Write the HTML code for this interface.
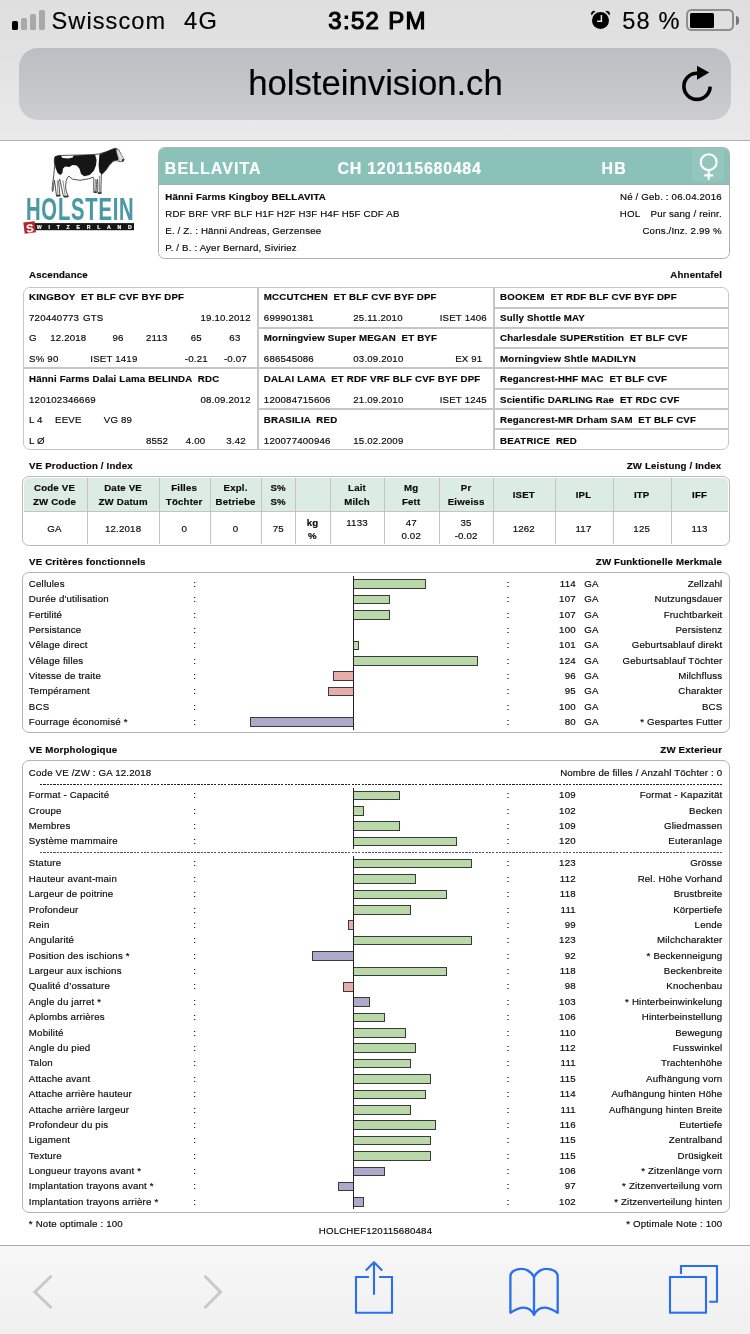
<!DOCTYPE html>
<html lang="fr"><head><meta charset="utf-8"><meta name="viewport" content="width=750"><title>holsteinvision.ch</title>
<style>
html,body{margin:0;padding:0;background:#fff;}
body{width:750px;height:1334px;position:relative;overflow:hidden;font-family:"Liberation Sans",sans-serif;}
.a{position:absolute;display:block;}
.t{position:absolute;display:block;white-space:pre;font-kerning:normal;-webkit-text-stroke:0.17px currentColor;}
</style></head>
<body>
<div class="a" style="left:0;top:0;width:750px;height:140px;background:linear-gradient(#dfdfdf,#e1e1e1 35%,#eaeaea);"></div>
<div class="a" style="left:0;top:139.6px;width:750px;height:1px;background:#b0b0b0;"></div>
<div class="a" style="left:12.20px;top:20.80px;width:5.80px;height:8.80px;background:#000;border-radius:1.6px;"></div>
<div class="a" style="left:21.20px;top:17.70px;width:5.80px;height:11.90px;background:#a9a9a9;border-radius:1.6px;"></div>
<div class="a" style="left:30.20px;top:14.00px;width:5.80px;height:15.60px;background:#a9a9a9;border-radius:1.6px;"></div>
<div class="a" style="left:39.30px;top:10.10px;width:5.80px;height:19.50px;background:#a9a9a9;border-radius:1.6px;"></div>
<span class="t" style="top:5.52px;font-size:23.6px;line-height:31px;color:#000;letter-spacing:1.05px;left:51.53px;">Swisscom</span>
<span class="t" style="top:5.52px;font-size:23.6px;line-height:31px;color:#000;letter-spacing:1.4px;left:184.03px;">4G</span>
<span class="t" style="top:5.38px;font-size:24.0px;line-height:31px;color:#000;letter-spacing:1.3px;left:227.60px;width:300px;text-align:center;-webkit-text-stroke:1.15px #000;">3:52 PM</span>
<span class="t" style="top:5.52px;font-size:23.6px;line-height:31px;color:#000;letter-spacing:1.2px;left:622.23px;">58 %</span>
<svg class="a" style="left:586px;top:6px" width="30" height="28" viewBox="586 6 30 28">
<circle cx="600.5" cy="20.4" r="8.5" fill="#000"/>
<path d="M591.7 15.2 A2.6 2.6 0 0 1 595.4 11.6 A10 10 0 0 0 591.7 15.2 Z M609.3 15.2 A2.6 2.6 0 0 0 605.6 11.6 A10 10 0 0 1 609.3 15.2 Z" fill="#000" stroke="#000" stroke-width="0.3" stroke-linejoin="round"/>
<path d="M601.4 15.1 V21.2 H597.1" stroke="#e4e4e4" stroke-width="1.5" fill="none"/>
</svg>
<div class="a" style="left:686.00px;top:9.40px;width:48.00px;height:22.00px;border:2px solid #8e8e90;border-radius:5.5px;box-sizing:border-box;"></div>
<div class="a" style="left:689.80px;top:13.20px;width:24.30px;height:14.60px;background:#000;border-radius:1.5px;"></div>
<div class="a" style="left:736.00px;top:16.30px;width:3.40px;height:8.50px;background:#777;border-radius:0 100% 100% 0 / 0 50% 50% 0;"></div>
<div class="a" style="left:19.00px;top:47.50px;width:712.00px;height:72.00px;background:linear-gradient(#bdbec3,#c4c5c9 50%,#cdcdd0);border-radius:19px;"></div>
<span class="t" style="top:60.88px;font-size:34.7px;line-height:45px;color:#000;left:225.50px;width:300px;text-align:center;">holsteinvision.ch</span>
<svg class="a" style="left:676px;top:60px" width="42" height="46" viewBox="676 60 42 46">
<path d="M697 73.2 A13.1 13.1 0 1 0 710.1 86.6" fill="none" stroke="#000" stroke-width="3.6"/>
<path d="M697 65.8 L709.2 72.5 L697 79.8 Z" fill="#000"/>
</svg>
<div class="a" style="left:0;top:1245px;width:750px;height:89px;background:linear-gradient(#f7f7f7,#f0f0f0);"></div>
<div class="a" style="left:0;top:1245.1px;width:750px;height:1px;background:#a8a8a8;"></div>
<svg class="a" style="left:0;top:1246px" width="750" height="88" viewBox="0 1246 750 88" fill="none">
<path d="M51.5 1275.8 L35 1292 L51.5 1308" stroke="#c9c9c9" stroke-width="3"/>
<path d="M204.5 1275.8 L220.5 1292 L204.5 1308" stroke="#c9c9c9" stroke-width="3"/>
<g stroke="#2a6ff0" stroke-width="2.1">
<path d="M369 1277 H356 V1312.7 H392 V1277 H379"/>
<path d="M374 1294.8 V1262.2 M365.8 1270.6 L374 1262.3 L382.2 1270.6"/>
<path d="M534 1315 V1277 C531 1270.5 524 1268.6 521.5 1268.8 C516 1269 510.4 1271.5 510.4 1276 V1312.8 C514 1310.5 519 1307.6 523.5 1307.6 C528.5 1307.6 532 1310.5 534 1315 C536 1310.5 539.5 1307.6 544.5 1307.6 C549 1307.6 554 1310.5 557.7 1312.8 V1276 C557.7 1271.5 552 1269 546.5 1268.8 C544 1268.6 537 1270.5 534 1277" stroke-linejoin="round" stroke-width="2.3"/>
<rect x="670" y="1277" width="36" height="35.7"/>
<path d="M681 1274 V1266 H717 V1301.7 H709.2"/>
</g>
</svg>
<svg class="a" style="left:20px;top:144px" width="120" height="95" viewBox="20 144 120 95">
<!-- cow -->
<g stroke-linejoin="round">
<path d="M54.9 156.8 L58.7 155.5 L73.1 155.2 L90.7 154.7 L98.1 154.1 L105.6 152.0 L112.0 149.3 L114.7 148.3 L117.3 148.7 L118.9 150.4 L121.6 155.7 L123.9 159.5 L123.3 161.3 L120.5 161.7 L116.3 160.6 L113.1 161.2 L109.3 165.3 L105.6 170.7 L101.3 174.9 L101.1 184.5 L100.8 190.9 L101.3 193.3 L98.1 193.6 L97.6 190.9 L97.9 184.5 L97.3 179.2 L96.5 184.5 L96.0 190.9 L96.5 192.5 L93.9 192.5 L93.7 186.7 L93.9 179.2 L93.3 177.3 L88.5 178.8 L80.0 180.3 L72.5 179.2 L68.8 176.0 L67.2 178.1 L66.1 181.3 L65.6 186.7 L66.1 190.9 L68.3 196.8 L64.0 197.1 L62.9 194.1 L61.3 186.7 L60.3 181.3 L59.7 179.2 L58.7 181.3 L59.2 186.7 L59.7 194.1 L60.3 195.7 L56.5 196.1 L56.0 192.0 L55.0 184.5 L54.4 180.3 L53.5 186.7 L52.5 191.5 L52.1 188.8 L52.9 181.3 L53.8 174.9 L54.6 165.3 L54.2 160.0 Z" fill="#fbfbfb" stroke="#262626" stroke-width="0.8"/>
<path d="M54.9 156.8 L58.7 155.5 L60.8 155.5 L62.4 157.9 L68.3 158.5 L72.7 157.4 L73.6 155.4 L90.7 154.8 L95.1 154.7 L96.6 160.0 L96.0 165.3 L93.9 170.7 L89.6 174.9 L84.3 176.2 L81.1 174.1 L79.5 168.7 L76.8 165.5 L72.5 164.9 L69.3 167.0 L65.1 166.6 L62.9 168.7 L62.4 173.0 L60.3 175.1 L57.6 173.0 L55.5 167.7 L54.4 161.1 Z" fill="#151515"/>
<path d="M99.4 154.6 L105.6 152.1 L112.0 149.4 L114.7 148.5 L117.1 149.1 L118.0 151.7 L119.7 156.8 L117.9 160.0 L113.3 161.0 L109.3 165.1 L105.6 170.5 L101.5 174.5 L99.4 171.9 L98.6 165.3 L99.0 160.0 Z" fill="#151515"/>
<path d="M116.1 148.7 L118.9 150.2 L121.8 155.5 L124.2 159.5 L123.3 161.4 L119.7 161.6 L118.0 157.2 L116.5 152.1 Z" fill="#dcdcdc" stroke="#555" stroke-width="0.5"/>
<path d="M122.1 158.9 L124.1 159.6 L123.3 161.3 L121.8 160.9 Z" fill="#222"/>
<path d="M53.1 182.4 L52.7 190.9 M54.0 182.4 L53.3 191.1 M57.4 180.3 L57.8 195.2 M62.9 180.3 L65.1 195.2 M95.5 179.2 L94.9 192.0 M99.4 176.0 L99.6 192.5" stroke="#777" stroke-width="0.8" fill="none"/>
<rect x="64.0" y="195.6" width="4.3" height="1.5" fill="#333"/><rect x="56.5" y="194.8" width="3.7" height="1.5" fill="#333"/><rect x="98.1" y="192.2" width="3.2" height="1.5" fill="#333"/><rect x="93.9" y="191.3" width="2.8" height="1.5" fill="#333"/>
</g>
<!-- red square and bar -->
<rect x="34" y="223.1" width="100" height="7.1" fill="#161616"/>
<path d="M23.3 222.6 L34.6 221.2 L36 232.3 L24.7 233.7 Z" fill="#b4242c"/>
</svg>
<span class="t" style="top:220.59px;font-size:11px;line-height:14px;color:#fff;font-weight:700;left:-120.20px;width:300px;text-align:center;transform:rotate(-7deg);">S</span>
<span class="t" style="top:224.30px;font-size:5.2px;line-height:7px;color:#fff;font-weight:700;letter-spacing:6.75px;left:36.81px;">WITZERLAND</span>
<span class="t" style="left:26.3px;top:191.2px;font-size:31.5px;line-height:36px;color:#4a98a6;font-weight:700;letter-spacing:1.2px;transform-origin:0 0;transform:scaleX(0.642);">HOLSTEIN</span>
<div class="a" style="left:158.3px;top:146.9px;width:571.4px;height:112.2px;border:1.7px solid #b0b0b0;border-radius:6.5px;box-sizing:border-box;background:#fff;overflow:hidden;"><div style="height:36.6px;background:#8ac2b9;border-bottom:1.3px solid #a8aeac;position:relative;"><div style="position:absolute;left:532.7px;top:0.4px;width:32.4px;height:33.6px;background:#94c6be;"></div></div></div>
<span class="t" style="top:157.86px;font-size:16px;line-height:21px;color:#fff;font-weight:700;letter-spacing:1.05px;left:164.80px;">BELLAVITA</span>
<span class="t" style="top:157.86px;font-size:16px;line-height:21px;color:#fff;font-weight:700;letter-spacing:0.7px;left:337.60px;">CH 120115680484</span>
<span class="t" style="top:157.86px;font-size:16px;line-height:21px;color:#fff;font-weight:700;letter-spacing:1.3px;left:601.50px;">HB</span>
<svg class="a" style="left:695px;top:150px" width="28" height="32" viewBox="695 150 28 32" fill="none" stroke="#fff" stroke-width="2.1">
<circle cx="708.7" cy="162.2" r="7.9"/><path d="M708.7 170.1 V179.8 M704.3 175.4 H713.1"/></svg>
<span class="t" style="top:190.04px;font-size:9.7px;line-height:13px;color:#0a0a0a;font-weight:700;letter-spacing:0.17px;left:165.27px;">Hänni Farms Kingboy BELLAVITA</span>
<span class="t" style="top:207.14px;font-size:9.7px;line-height:13px;color:#0a0a0a;letter-spacing:0.17px;left:165.27px;">RDF BRF VRF BLF H1F H2F H3F H4F H5F CDF AB</span>
<span class="t" style="top:224.04px;font-size:9.7px;line-height:13px;color:#0a0a0a;letter-spacing:0.17px;left:165.27px;">E. / Z. : Hänni Andreas, Gerzensee</span>
<span class="t" style="top:241.14px;font-size:9.7px;line-height:13px;color:#0a0a0a;letter-spacing:0.17px;left:165.27px;">P. / B. : Ayer Bernard, Siviriez</span>
<span class="t" style="top:189.84px;font-size:9.7px;line-height:13px;color:#0a0a0a;letter-spacing:0.17px;right:28.22px;">Né / Geb. : 06.04.2016</span>
<span class="t" style="top:206.94px;font-size:9.7px;line-height:13px;color:#0a0a0a;letter-spacing:0.17px;left:619.77px;">HOL</span>
<span class="t" style="top:206.94px;font-size:9.7px;line-height:13px;color:#0a0a0a;letter-spacing:0.17px;right:28.22px;">Pur sang / reinr.</span>
<span class="t" style="top:223.74px;font-size:9.7px;line-height:13px;color:#0a0a0a;letter-spacing:0.17px;right:28.22px;">Cons./Inz. 2.99 %</span>
<span class="t" style="top:268.44px;font-size:9.7px;line-height:13px;color:#0a0a0a;font-weight:700;letter-spacing:0.17px;left:29.07px;">Ascendance</span>
<span class="t" style="top:268.44px;font-size:9.7px;line-height:13px;color:#0a0a0a;font-weight:700;letter-spacing:0.17px;right:27.91px;">Ahnentafel</span>
<div class="a" style="left:22.60px;top:286.60px;width:706.60px;height:163.40px;border:1.7px solid #c6c6c6;border-radius:7px;box-sizing:border-box;"></div>
<div class="a" style="left:257.00px;top:287.00px;width:1.50px;height:162.50px;background:#c6c6c6;"></div>
<div class="a" style="left:493.00px;top:287.00px;width:1.50px;height:162.50px;background:#c6c6c6;"></div>
<div class="a" style="left:23.00px;top:367.00px;width:705.80px;height:1.50px;background:#c6c6c6;"></div>
<div class="a" style="left:258.20px;top:327.00px;width:235.60px;height:1.50px;background:#c6c6c6;"></div>
<div class="a" style="left:258.20px;top:408.00px;width:235.60px;height:1.50px;background:#c6c6c6;"></div>
<div class="a" style="left:493.80px;top:307.00px;width:235.00px;height:1.50px;background:#c6c6c6;"></div>
<div class="a" style="left:493.80px;top:327.00px;width:235.00px;height:1.50px;background:#c6c6c6;"></div>
<div class="a" style="left:493.80px;top:347.00px;width:235.00px;height:1.50px;background:#c6c6c6;"></div>
<div class="a" style="left:493.80px;top:388.00px;width:235.00px;height:1.50px;background:#c6c6c6;"></div>
<div class="a" style="left:493.80px;top:408.00px;width:235.00px;height:1.50px;background:#c6c6c6;"></div>
<div class="a" style="left:493.80px;top:428.00px;width:235.00px;height:1.50px;background:#c6c6c6;"></div>
<span class="t" style="top:289.84px;font-size:9.7px;line-height:13px;color:#0a0a0a;font-weight:700;letter-spacing:0.17px;left:29.07px;">KINGBOY  ET BLF CVF BYF DPF</span>
<span class="t" style="top:310.54px;font-size:9.7px;line-height:13px;color:#0a0a0a;letter-spacing:0.17px;left:29.07px;">720440773</span>
<span class="t" style="top:310.54px;font-size:9.7px;line-height:13px;color:#0a0a0a;letter-spacing:0.17px;left:83.07px;">GTS</span>
<span class="t" style="top:310.54px;font-size:9.7px;line-height:13px;color:#0a0a0a;letter-spacing:0.17px;right:499.31px;">19.10.2012</span>
<span class="t" style="top:330.94px;font-size:9.7px;line-height:13px;color:#0a0a0a;letter-spacing:0.17px;left:29.07px;">G</span>
<span class="t" style="top:330.94px;font-size:9.7px;line-height:13px;color:#0a0a0a;letter-spacing:0.17px;left:50.17px;">12.2018</span>
<span class="t" style="top:330.94px;font-size:9.7px;line-height:13px;color:#0a0a0a;letter-spacing:0.17px;left:-32.00px;width:300px;text-align:center;">96</span>
<span class="t" style="top:330.94px;font-size:9.7px;line-height:13px;color:#0a0a0a;letter-spacing:0.17px;left:6.80px;width:300px;text-align:center;">2113</span>
<span class="t" style="top:330.94px;font-size:9.7px;line-height:13px;color:#0a0a0a;letter-spacing:0.17px;left:46.30px;width:300px;text-align:center;">65</span>
<span class="t" style="top:330.94px;font-size:9.7px;line-height:13px;color:#0a0a0a;letter-spacing:0.17px;left:84.90px;width:300px;text-align:center;">63</span>
<span class="t" style="top:351.64px;font-size:9.7px;line-height:13px;color:#0a0a0a;letter-spacing:0.17px;left:29.07px;">S% 90</span>
<span class="t" style="top:351.64px;font-size:9.7px;line-height:13px;color:#0a0a0a;letter-spacing:0.17px;left:90.37px;">ISET 1419</span>
<span class="t" style="top:351.64px;font-size:9.7px;line-height:13px;color:#0a0a0a;letter-spacing:0.17px;left:46.30px;width:300px;text-align:center;">-0.21</span>
<span class="t" style="top:351.64px;font-size:9.7px;line-height:13px;color:#0a0a0a;letter-spacing:0.17px;left:85.40px;width:300px;text-align:center;">-0.07</span>
<span class="t" style="top:371.64px;font-size:9.7px;line-height:13px;color:#0a0a0a;font-weight:700;letter-spacing:0.17px;left:29.07px;">Hänni Farms Dalai Lama BELINDA  RDC</span>
<span class="t" style="top:392.64px;font-size:9.7px;line-height:13px;color:#0a0a0a;letter-spacing:0.17px;left:29.07px;">120102346669</span>
<span class="t" style="top:392.64px;font-size:9.7px;line-height:13px;color:#0a0a0a;letter-spacing:0.17px;right:499.31px;">08.09.2012</span>
<span class="t" style="top:413.14px;font-size:9.7px;line-height:13px;color:#0a0a0a;letter-spacing:0.17px;left:29.07px;">L 4</span>
<span class="t" style="top:413.14px;font-size:9.7px;line-height:13px;color:#0a0a0a;letter-spacing:0.17px;left:55.07px;">EEVE</span>
<span class="t" style="top:413.14px;font-size:9.7px;line-height:13px;color:#0a0a0a;letter-spacing:0.17px;left:103.87px;">VG 89</span>
<span class="t" style="top:433.84px;font-size:9.7px;line-height:13px;color:#0a0a0a;letter-spacing:0.17px;left:29.07px;">L Ø</span>
<span class="t" style="top:433.84px;font-size:9.7px;line-height:13px;color:#0a0a0a;letter-spacing:0.17px;left:7.00px;width:300px;text-align:center;">8552</span>
<span class="t" style="top:433.84px;font-size:9.7px;line-height:13px;color:#0a0a0a;letter-spacing:0.17px;left:45.60px;width:300px;text-align:center;">4.00</span>
<span class="t" style="top:433.84px;font-size:9.7px;line-height:13px;color:#0a0a0a;letter-spacing:0.17px;left:86.00px;width:300px;text-align:center;">3.42</span>
<span class="t" style="top:289.84px;font-size:9.7px;line-height:13px;color:#0a0a0a;font-weight:700;letter-spacing:0.17px;left:263.87px;">MCCUTCHEN  ET BLF CVF BYF DPF</span>
<span class="t" style="top:310.54px;font-size:9.7px;line-height:13px;color:#0a0a0a;letter-spacing:0.17px;left:263.87px;">699901381</span>
<span class="t" style="top:310.54px;font-size:9.7px;line-height:13px;color:#0a0a0a;letter-spacing:0.17px;left:353.27px;">25.11.2010</span>
<span class="t" style="top:310.54px;font-size:9.7px;line-height:13px;color:#0a0a0a;letter-spacing:0.17px;right:263.12px;">ISET 1406</span>
<span class="t" style="top:330.94px;font-size:9.7px;line-height:13px;color:#0a0a0a;font-weight:700;letter-spacing:0.17px;left:263.87px;">Morningview Super MEGAN  ET BYF</span>
<span class="t" style="top:351.64px;font-size:9.7px;line-height:13px;color:#0a0a0a;letter-spacing:0.17px;left:263.87px;">686545086</span>
<span class="t" style="top:351.64px;font-size:9.7px;line-height:13px;color:#0a0a0a;letter-spacing:0.17px;left:353.27px;">03.09.2010</span>
<span class="t" style="top:351.64px;font-size:9.7px;line-height:13px;color:#0a0a0a;letter-spacing:0.17px;right:267.62px;">EX 91</span>
<span class="t" style="top:371.64px;font-size:9.7px;line-height:13px;color:#0a0a0a;font-weight:700;letter-spacing:0.17px;left:263.87px;">DALAI LAMA  ET RDF VRF BLF CVF BYF DPF</span>
<span class="t" style="top:392.64px;font-size:9.7px;line-height:13px;color:#0a0a0a;letter-spacing:0.17px;left:263.87px;">120084715606</span>
<span class="t" style="top:392.64px;font-size:9.7px;line-height:13px;color:#0a0a0a;letter-spacing:0.17px;left:353.27px;">21.09.2010</span>
<span class="t" style="top:392.64px;font-size:9.7px;line-height:13px;color:#0a0a0a;letter-spacing:0.17px;right:263.12px;">ISET 1245</span>
<span class="t" style="top:413.14px;font-size:9.7px;line-height:13px;color:#0a0a0a;font-weight:700;letter-spacing:0.17px;left:263.87px;">BRASILIA  RED</span>
<span class="t" style="top:433.84px;font-size:9.7px;line-height:13px;color:#0a0a0a;letter-spacing:0.17px;left:263.87px;">120077400946</span>
<span class="t" style="top:433.84px;font-size:9.7px;line-height:13px;color:#0a0a0a;letter-spacing:0.17px;left:353.27px;">15.02.2009</span>
<span class="t" style="top:289.84px;font-size:9.7px;line-height:13px;color:#0a0a0a;font-weight:700;letter-spacing:0.17px;left:500.07px;">BOOKEM  ET RDF BLF CVF BYF DPF</span>
<span class="t" style="top:310.54px;font-size:9.7px;line-height:13px;color:#0a0a0a;font-weight:700;letter-spacing:0.17px;left:500.07px;">Sully Shottle MAY</span>
<span class="t" style="top:330.94px;font-size:9.7px;line-height:13px;color:#0a0a0a;font-weight:700;letter-spacing:0.17px;left:500.07px;">Charlesdale SUPERstition  ET BLF CVF</span>
<span class="t" style="top:351.64px;font-size:9.7px;line-height:13px;color:#0a0a0a;font-weight:700;letter-spacing:0.17px;left:500.07px;">Morningview Shtle MADILYN</span>
<span class="t" style="top:371.64px;font-size:9.7px;line-height:13px;color:#0a0a0a;font-weight:700;letter-spacing:0.17px;left:500.07px;">Regancrest-HHF MAC  ET BLF CVF</span>
<span class="t" style="top:392.64px;font-size:9.7px;line-height:13px;color:#0a0a0a;font-weight:700;letter-spacing:0.17px;left:500.07px;">Scientific DARLING Rae  ET RDC CVF</span>
<span class="t" style="top:413.14px;font-size:9.7px;line-height:13px;color:#0a0a0a;font-weight:700;letter-spacing:0.17px;left:500.07px;">Regancrest-MR Drham SAM  ET BLF CVF</span>
<span class="t" style="top:433.84px;font-size:9.7px;line-height:13px;color:#0a0a0a;font-weight:700;letter-spacing:0.17px;left:500.07px;">BEATRICE  RED</span>
<span class="t" style="top:459.04px;font-size:9.7px;line-height:13px;color:#0a0a0a;font-weight:700;letter-spacing:0.17px;left:29.07px;">VE Production / Index</span>
<span class="t" style="top:459.04px;font-size:9.7px;line-height:13px;color:#0a0a0a;font-weight:700;letter-spacing:0.17px;right:28.62px;">ZW Leistung / Index</span>
<div class="a" style="left:22.00px;top:476.00px;width:707.70px;height:70.00px;border:1.7px solid #b9b9b9;border-radius:7px;box-sizing:border-box;background:#fff;"></div>
<div class="a" style="left:23.70px;top:477.70px;width:704.30px;height:33.00px;background:#dcece3;border-radius:5.3px 5.3px 0 0;"></div>
<div class="a" style="left:23.70px;top:511.00px;width:704.30px;height:1.00px;background:#c4c4c4;"></div>
<div class="a" style="left:87.00px;top:477.70px;width:1.00px;height:66.60px;background:#c4c4c4;"></div>
<div class="a" style="left:159.00px;top:477.70px;width:1.00px;height:66.60px;background:#c4c4c4;"></div>
<div class="a" style="left:210.00px;top:477.70px;width:1.00px;height:66.60px;background:#c4c4c4;"></div>
<div class="a" style="left:261.00px;top:477.70px;width:1.00px;height:66.60px;background:#c4c4c4;"></div>
<div class="a" style="left:295.00px;top:477.70px;width:1.00px;height:66.60px;background:#c4c4c4;"></div>
<div class="a" style="left:330.00px;top:477.70px;width:1.00px;height:66.60px;background:#c4c4c4;"></div>
<div class="a" style="left:384.00px;top:477.70px;width:1.00px;height:66.60px;background:#c4c4c4;"></div>
<div class="a" style="left:439.00px;top:477.70px;width:1.00px;height:66.60px;background:#c4c4c4;"></div>
<div class="a" style="left:493.00px;top:477.70px;width:1.00px;height:66.60px;background:#c4c4c4;"></div>
<div class="a" style="left:555.00px;top:477.70px;width:1.00px;height:66.60px;background:#c4c4c4;"></div>
<div class="a" style="left:613.00px;top:477.70px;width:1.00px;height:66.60px;background:#c4c4c4;"></div>
<div class="a" style="left:671.00px;top:477.70px;width:1.00px;height:66.60px;background:#c4c4c4;"></div>
<span class="t" style="top:481.34px;font-size:9.7px;line-height:13px;color:#0a0a0a;font-weight:700;letter-spacing:0.17px;left:-95.50px;width:300px;text-align:center;">Code VE</span>
<span class="t" style="top:495.14px;font-size:9.7px;line-height:13px;color:#0a0a0a;font-weight:700;letter-spacing:0.17px;left:-95.50px;width:300px;text-align:center;">ZW Code</span>
<span class="t" style="top:481.34px;font-size:9.7px;line-height:13px;color:#0a0a0a;font-weight:700;letter-spacing:0.17px;left:-26.90px;width:300px;text-align:center;">Date VE</span>
<span class="t" style="top:495.14px;font-size:9.7px;line-height:13px;color:#0a0a0a;font-weight:700;letter-spacing:0.17px;left:-26.90px;width:300px;text-align:center;">ZW Datum</span>
<span class="t" style="top:481.34px;font-size:9.7px;line-height:13px;color:#0a0a0a;font-weight:700;letter-spacing:0.17px;left:34.20px;width:300px;text-align:center;">Filles</span>
<span class="t" style="top:495.14px;font-size:9.7px;line-height:13px;color:#0a0a0a;font-weight:700;letter-spacing:0.17px;left:34.20px;width:300px;text-align:center;">Töchter</span>
<span class="t" style="top:481.34px;font-size:9.7px;line-height:13px;color:#0a0a0a;font-weight:700;letter-spacing:0.17px;left:85.60px;width:300px;text-align:center;">Expl.</span>
<span class="t" style="top:495.14px;font-size:9.7px;line-height:13px;color:#0a0a0a;font-weight:700;letter-spacing:0.17px;left:85.60px;width:300px;text-align:center;">Betriebe</span>
<span class="t" style="top:481.34px;font-size:9.7px;line-height:13px;color:#0a0a0a;font-weight:700;letter-spacing:0.17px;left:128.20px;width:300px;text-align:center;">S%</span>
<span class="t" style="top:495.14px;font-size:9.7px;line-height:13px;color:#0a0a0a;font-weight:700;letter-spacing:0.17px;left:128.20px;width:300px;text-align:center;">S%</span>
<span class="t" style="top:481.34px;font-size:9.7px;line-height:13px;color:#0a0a0a;font-weight:700;letter-spacing:0.17px;left:207.00px;width:300px;text-align:center;">Lait</span>
<span class="t" style="top:495.14px;font-size:9.7px;line-height:13px;color:#0a0a0a;font-weight:700;letter-spacing:0.17px;left:207.00px;width:300px;text-align:center;">Milch</span>
<span class="t" style="top:481.34px;font-size:9.7px;line-height:13px;color:#0a0a0a;font-weight:700;letter-spacing:0.17px;left:261.20px;width:300px;text-align:center;">Mg</span>
<span class="t" style="top:495.14px;font-size:9.7px;line-height:13px;color:#0a0a0a;font-weight:700;letter-spacing:0.17px;left:261.20px;width:300px;text-align:center;">Fett</span>
<span class="t" style="top:481.34px;font-size:9.7px;line-height:13px;color:#0a0a0a;font-weight:700;letter-spacing:0.17px;left:316.10px;width:300px;text-align:center;">Pr</span>
<span class="t" style="top:495.14px;font-size:9.7px;line-height:13px;color:#0a0a0a;font-weight:700;letter-spacing:0.17px;left:316.10px;width:300px;text-align:center;">Eiweiss</span>
<span class="t" style="top:487.74px;font-size:9.7px;line-height:13px;color:#0a0a0a;font-weight:700;letter-spacing:0.17px;left:373.80px;width:300px;text-align:center;">ISET</span>
<span class="t" style="top:487.74px;font-size:9.7px;line-height:13px;color:#0a0a0a;font-weight:700;letter-spacing:0.17px;left:433.50px;width:300px;text-align:center;">IPL</span>
<span class="t" style="top:487.74px;font-size:9.7px;line-height:13px;color:#0a0a0a;font-weight:700;letter-spacing:0.17px;left:491.70px;width:300px;text-align:center;">ITP</span>
<span class="t" style="top:487.74px;font-size:9.7px;line-height:13px;color:#0a0a0a;font-weight:700;letter-spacing:0.17px;left:549.60px;width:300px;text-align:center;">IFF</span>
<span class="t" style="top:522.14px;font-size:9.7px;line-height:13px;color:#0a0a0a;letter-spacing:0.17px;left:-95.50px;width:300px;text-align:center;">GA</span>
<span class="t" style="top:522.14px;font-size:9.7px;line-height:13px;color:#0a0a0a;letter-spacing:0.17px;left:-26.90px;width:300px;text-align:center;">12.2018</span>
<span class="t" style="top:522.14px;font-size:9.7px;line-height:13px;color:#0a0a0a;letter-spacing:0.17px;left:34.20px;width:300px;text-align:center;">0</span>
<span class="t" style="top:522.14px;font-size:9.7px;line-height:13px;color:#0a0a0a;letter-spacing:0.17px;left:85.60px;width:300px;text-align:center;">0</span>
<span class="t" style="top:522.14px;font-size:9.7px;line-height:13px;color:#0a0a0a;letter-spacing:0.17px;left:128.20px;width:300px;text-align:center;">75</span>
<span class="t" style="top:522.14px;font-size:9.7px;line-height:13px;color:#0a0a0a;letter-spacing:0.17px;left:373.80px;width:300px;text-align:center;">1262</span>
<span class="t" style="top:522.14px;font-size:9.7px;line-height:13px;color:#0a0a0a;letter-spacing:0.17px;left:433.50px;width:300px;text-align:center;">117</span>
<span class="t" style="top:522.14px;font-size:9.7px;line-height:13px;color:#0a0a0a;letter-spacing:0.17px;left:491.70px;width:300px;text-align:center;">125</span>
<span class="t" style="top:522.14px;font-size:9.7px;line-height:13px;color:#0a0a0a;letter-spacing:0.17px;left:549.60px;width:300px;text-align:center;">113</span>
<span class="t" style="top:515.94px;font-size:9.7px;line-height:13px;color:#0a0a0a;font-weight:700;letter-spacing:0.17px;left:162.50px;width:300px;text-align:center;">kg</span>
<span class="t" style="top:528.84px;font-size:9.7px;line-height:13px;color:#0a0a0a;font-weight:700;letter-spacing:0.17px;left:162.50px;width:300px;text-align:center;">%</span>
<span class="t" style="top:515.94px;font-size:9.7px;line-height:13px;color:#0a0a0a;letter-spacing:0.17px;left:207.00px;width:300px;text-align:center;">1133</span>
<span class="t" style="top:515.94px;font-size:9.7px;line-height:13px;color:#0a0a0a;letter-spacing:0.17px;left:261.20px;width:300px;text-align:center;">47</span>
<span class="t" style="top:528.84px;font-size:9.7px;line-height:13px;color:#0a0a0a;letter-spacing:0.17px;left:261.20px;width:300px;text-align:center;">0.02</span>
<span class="t" style="top:515.94px;font-size:9.7px;line-height:13px;color:#0a0a0a;letter-spacing:0.17px;left:316.10px;width:300px;text-align:center;">35</span>
<span class="t" style="top:528.84px;font-size:9.7px;line-height:13px;color:#0a0a0a;letter-spacing:0.17px;left:316.10px;width:300px;text-align:center;">-0.02</span>
<span class="t" style="top:555.04px;font-size:9.7px;line-height:13px;color:#0a0a0a;font-weight:700;letter-spacing:0.17px;left:29.07px;">VE Critères fonctionnels</span>
<span class="t" style="top:555.04px;font-size:9.7px;line-height:13px;color:#0a0a0a;font-weight:700;letter-spacing:0.17px;right:27.91px;">ZW Funktionelle Merkmale</span>
<div class="a" style="left:22.00px;top:572.20px;width:707.70px;height:161.30px;border:1.6px solid #b4b4b4;border-radius:7px;box-sizing:border-box;"></div>
<span class="t" style="top:576.84px;font-size:9.7px;line-height:13px;color:#0a0a0a;letter-spacing:0.17px;left:28.87px;">Cellules</span>
<span class="t" style="top:576.84px;font-size:9.7px;line-height:13px;color:#0a0a0a;letter-spacing:0.17px;left:44.70px;width:300px;text-align:center;">:</span>
<span class="t" style="top:576.84px;font-size:9.7px;line-height:13px;color:#0a0a0a;letter-spacing:0.17px;left:358.30px;width:300px;text-align:center;">:</span>
<span class="t" style="top:576.84px;font-size:9.7px;line-height:13px;color:#0a0a0a;letter-spacing:0.17px;right:174.22px;">114</span>
<span class="t" style="top:576.84px;font-size:9.7px;line-height:13px;color:#0a0a0a;letter-spacing:0.17px;left:584.27px;">GA</span>
<span class="t" style="top:576.84px;font-size:9.7px;line-height:13px;color:#0a0a0a;letter-spacing:0.17px;right:27.62px;">Zellzahl</span>
<div class="a" style="left:353.20px;top:579.30px;width:72.96px;height:9.60px;background:#b9d9a9;border:1px solid #3a3a3a;box-sizing:border-box;"></div>
<span class="t" style="top:592.19px;font-size:9.7px;line-height:13px;color:#0a0a0a;letter-spacing:0.17px;left:28.87px;">Durée d'utilisation</span>
<span class="t" style="top:592.19px;font-size:9.7px;line-height:13px;color:#0a0a0a;letter-spacing:0.17px;left:44.70px;width:300px;text-align:center;">:</span>
<span class="t" style="top:592.19px;font-size:9.7px;line-height:13px;color:#0a0a0a;letter-spacing:0.17px;left:358.30px;width:300px;text-align:center;">:</span>
<span class="t" style="top:592.19px;font-size:9.7px;line-height:13px;color:#0a0a0a;letter-spacing:0.17px;right:174.22px;">107</span>
<span class="t" style="top:592.19px;font-size:9.7px;line-height:13px;color:#0a0a0a;letter-spacing:0.17px;left:584.27px;">GA</span>
<span class="t" style="top:592.19px;font-size:9.7px;line-height:13px;color:#0a0a0a;letter-spacing:0.17px;right:27.62px;">Nutzungsdauer</span>
<div class="a" style="left:353.20px;top:594.65px;width:36.98px;height:9.60px;background:#b9d9a9;border:1px solid #3a3a3a;box-sizing:border-box;"></div>
<span class="t" style="top:607.54px;font-size:9.7px;line-height:13px;color:#0a0a0a;letter-spacing:0.17px;left:28.87px;">Fertilité</span>
<span class="t" style="top:607.54px;font-size:9.7px;line-height:13px;color:#0a0a0a;letter-spacing:0.17px;left:44.70px;width:300px;text-align:center;">:</span>
<span class="t" style="top:607.54px;font-size:9.7px;line-height:13px;color:#0a0a0a;letter-spacing:0.17px;left:358.30px;width:300px;text-align:center;">:</span>
<span class="t" style="top:607.54px;font-size:9.7px;line-height:13px;color:#0a0a0a;letter-spacing:0.17px;right:174.22px;">107</span>
<span class="t" style="top:607.54px;font-size:9.7px;line-height:13px;color:#0a0a0a;letter-spacing:0.17px;left:584.27px;">GA</span>
<span class="t" style="top:607.54px;font-size:9.7px;line-height:13px;color:#0a0a0a;letter-spacing:0.17px;right:27.62px;">Fruchtbarkeit</span>
<div class="a" style="left:353.20px;top:610.00px;width:36.98px;height:9.60px;background:#b9d9a9;border:1px solid #3a3a3a;box-sizing:border-box;"></div>
<span class="t" style="top:622.89px;font-size:9.7px;line-height:13px;color:#0a0a0a;letter-spacing:0.17px;left:28.87px;">Persistance</span>
<span class="t" style="top:622.89px;font-size:9.7px;line-height:13px;color:#0a0a0a;letter-spacing:0.17px;left:44.70px;width:300px;text-align:center;">:</span>
<span class="t" style="top:622.89px;font-size:9.7px;line-height:13px;color:#0a0a0a;letter-spacing:0.17px;left:358.30px;width:300px;text-align:center;">:</span>
<span class="t" style="top:622.89px;font-size:9.7px;line-height:13px;color:#0a0a0a;letter-spacing:0.17px;right:174.22px;">100</span>
<span class="t" style="top:622.89px;font-size:9.7px;line-height:13px;color:#0a0a0a;letter-spacing:0.17px;left:584.27px;">GA</span>
<span class="t" style="top:622.89px;font-size:9.7px;line-height:13px;color:#0a0a0a;letter-spacing:0.17px;right:27.62px;">Persistenz</span>
<div class="a" style="left:352.80px;top:625.35px;width:1.50px;height:9.60px;background:#222;"></div>
<span class="t" style="top:638.24px;font-size:9.7px;line-height:13px;color:#0a0a0a;letter-spacing:0.17px;left:28.87px;">Vêlage direct</span>
<span class="t" style="top:638.24px;font-size:9.7px;line-height:13px;color:#0a0a0a;letter-spacing:0.17px;left:44.70px;width:300px;text-align:center;">:</span>
<span class="t" style="top:638.24px;font-size:9.7px;line-height:13px;color:#0a0a0a;letter-spacing:0.17px;left:358.30px;width:300px;text-align:center;">:</span>
<span class="t" style="top:638.24px;font-size:9.7px;line-height:13px;color:#0a0a0a;letter-spacing:0.17px;right:174.22px;">101</span>
<span class="t" style="top:638.24px;font-size:9.7px;line-height:13px;color:#0a0a0a;letter-spacing:0.17px;left:584.27px;">GA</span>
<span class="t" style="top:638.24px;font-size:9.7px;line-height:13px;color:#0a0a0a;letter-spacing:0.17px;right:27.62px;">Geburtsablauf direkt</span>
<div class="a" style="left:353.20px;top:640.70px;width:6.14px;height:9.60px;background:#b9d9a9;border:1px solid #3a3a3a;box-sizing:border-box;"></div>
<span class="t" style="top:653.59px;font-size:9.7px;line-height:13px;color:#0a0a0a;letter-spacing:0.17px;left:28.87px;">Vêlage filles</span>
<span class="t" style="top:653.59px;font-size:9.7px;line-height:13px;color:#0a0a0a;letter-spacing:0.17px;left:44.70px;width:300px;text-align:center;">:</span>
<span class="t" style="top:653.59px;font-size:9.7px;line-height:13px;color:#0a0a0a;letter-spacing:0.17px;left:358.30px;width:300px;text-align:center;">:</span>
<span class="t" style="top:653.59px;font-size:9.7px;line-height:13px;color:#0a0a0a;letter-spacing:0.17px;right:174.22px;">124</span>
<span class="t" style="top:653.59px;font-size:9.7px;line-height:13px;color:#0a0a0a;letter-spacing:0.17px;left:584.27px;">GA</span>
<span class="t" style="top:653.59px;font-size:9.7px;line-height:13px;color:#0a0a0a;letter-spacing:0.17px;right:27.62px;">Geburtsablauf Töchter</span>
<div class="a" style="left:353.20px;top:656.05px;width:124.36px;height:9.60px;background:#b9d9a9;border:1px solid #3a3a3a;box-sizing:border-box;"></div>
<span class="t" style="top:668.94px;font-size:9.7px;line-height:13px;color:#0a0a0a;letter-spacing:0.17px;left:28.87px;">Vitesse de traite</span>
<span class="t" style="top:668.94px;font-size:9.7px;line-height:13px;color:#0a0a0a;letter-spacing:0.17px;left:44.70px;width:300px;text-align:center;">:</span>
<span class="t" style="top:668.94px;font-size:9.7px;line-height:13px;color:#0a0a0a;letter-spacing:0.17px;left:358.30px;width:300px;text-align:center;">:</span>
<span class="t" style="top:668.94px;font-size:9.7px;line-height:13px;color:#0a0a0a;letter-spacing:0.17px;right:174.22px;">96</span>
<span class="t" style="top:668.94px;font-size:9.7px;line-height:13px;color:#0a0a0a;letter-spacing:0.17px;left:584.27px;">GA</span>
<span class="t" style="top:668.94px;font-size:9.7px;line-height:13px;color:#0a0a0a;letter-spacing:0.17px;right:27.62px;">Milchfluss</span>
<div class="a" style="left:332.64px;top:671.40px;width:21.56px;height:9.60px;background:#e7adaa;border:1px solid #3a3a3a;box-sizing:border-box;"></div>
<span class="t" style="top:684.29px;font-size:9.7px;line-height:13px;color:#0a0a0a;letter-spacing:0.17px;left:28.87px;">Tempérament</span>
<span class="t" style="top:684.29px;font-size:9.7px;line-height:13px;color:#0a0a0a;letter-spacing:0.17px;left:44.70px;width:300px;text-align:center;">:</span>
<span class="t" style="top:684.29px;font-size:9.7px;line-height:13px;color:#0a0a0a;letter-spacing:0.17px;left:358.30px;width:300px;text-align:center;">:</span>
<span class="t" style="top:684.29px;font-size:9.7px;line-height:13px;color:#0a0a0a;letter-spacing:0.17px;right:174.22px;">95</span>
<span class="t" style="top:684.29px;font-size:9.7px;line-height:13px;color:#0a0a0a;letter-spacing:0.17px;left:584.27px;">GA</span>
<span class="t" style="top:684.29px;font-size:9.7px;line-height:13px;color:#0a0a0a;letter-spacing:0.17px;right:27.62px;">Charakter</span>
<div class="a" style="left:327.50px;top:686.75px;width:26.70px;height:9.60px;background:#e7adaa;border:1px solid #3a3a3a;box-sizing:border-box;"></div>
<span class="t" style="top:699.64px;font-size:9.7px;line-height:13px;color:#0a0a0a;letter-spacing:0.17px;left:28.87px;">BCS</span>
<span class="t" style="top:699.64px;font-size:9.7px;line-height:13px;color:#0a0a0a;letter-spacing:0.17px;left:44.70px;width:300px;text-align:center;">:</span>
<span class="t" style="top:699.64px;font-size:9.7px;line-height:13px;color:#0a0a0a;letter-spacing:0.17px;left:358.30px;width:300px;text-align:center;">:</span>
<span class="t" style="top:699.64px;font-size:9.7px;line-height:13px;color:#0a0a0a;letter-spacing:0.17px;right:174.22px;">100</span>
<span class="t" style="top:699.64px;font-size:9.7px;line-height:13px;color:#0a0a0a;letter-spacing:0.17px;left:584.27px;">GA</span>
<span class="t" style="top:699.64px;font-size:9.7px;line-height:13px;color:#0a0a0a;letter-spacing:0.17px;right:27.62px;">BCS</span>
<div class="a" style="left:352.80px;top:702.10px;width:1.50px;height:9.60px;background:#222;"></div>
<span class="t" style="top:714.99px;font-size:9.7px;line-height:13px;color:#0a0a0a;letter-spacing:0.17px;left:28.87px;">Fourrage économisé *</span>
<span class="t" style="top:714.99px;font-size:9.7px;line-height:13px;color:#0a0a0a;letter-spacing:0.17px;left:44.70px;width:300px;text-align:center;">:</span>
<span class="t" style="top:714.99px;font-size:9.7px;line-height:13px;color:#0a0a0a;letter-spacing:0.17px;left:358.30px;width:300px;text-align:center;">:</span>
<span class="t" style="top:714.99px;font-size:9.7px;line-height:13px;color:#0a0a0a;letter-spacing:0.17px;right:174.22px;">80</span>
<span class="t" style="top:714.99px;font-size:9.7px;line-height:13px;color:#0a0a0a;letter-spacing:0.17px;left:584.27px;">GA</span>
<span class="t" style="top:714.99px;font-size:9.7px;line-height:13px;color:#0a0a0a;letter-spacing:0.17px;right:27.62px;">* Gespartes Futter</span>
<div class="a" style="left:250.40px;top:717.45px;width:103.80px;height:9.60px;background:#abaaca;border:1px solid #3a3a3a;box-sizing:border-box;"></div>
<div class="a" style="left:353.00px;top:576.00px;width:1.10px;height:153.50px;background:#222;"></div>
<span class="t" style="top:742.54px;font-size:9.7px;line-height:13px;color:#0a0a0a;font-weight:700;letter-spacing:0.17px;left:29.07px;">VE Morphologique</span>
<span class="t" style="top:742.54px;font-size:9.7px;line-height:13px;color:#0a0a0a;font-weight:700;letter-spacing:0.17px;right:27.91px;">ZW Exterieur</span>
<div class="a" style="left:22.00px;top:760.00px;width:707.70px;height:453.40px;border:1.6px solid #b4b4b4;border-radius:7px;box-sizing:border-box;"></div>
<span class="t" style="top:765.94px;font-size:9.7px;line-height:13px;color:#0a0a0a;letter-spacing:0.17px;left:28.87px;">Code VE /ZW : GA 12.2018</span>
<span class="t" style="top:765.94px;font-size:9.7px;line-height:13px;color:#0a0a0a;letter-spacing:0.17px;right:27.62px;">Nombre de filles / Anzahl Töchter : 0</span>
<div class="a" style="left:39.60px;top:783.80px;width:683.50px;height:1.20px;background:repeating-linear-gradient(90deg,#222 0,#222 2.2px,transparent 2.2px,transparent 3.35px);"></div>
<div class="a" style="left:39.60px;top:852.10px;width:683.50px;height:1.00px;background:repeating-linear-gradient(90deg,#555 0,#555 2.2px,transparent 2.2px,transparent 3.35px);"></div>
<span class="t" style="top:788.34px;font-size:9.7px;line-height:13px;color:#0a0a0a;letter-spacing:0.17px;left:28.87px;">Format - Capacité</span>
<span class="t" style="top:788.34px;font-size:9.7px;line-height:13px;color:#0a0a0a;letter-spacing:0.17px;left:44.70px;width:300px;text-align:center;">:</span>
<span class="t" style="top:788.34px;font-size:9.7px;line-height:13px;color:#0a0a0a;letter-spacing:0.17px;left:358.30px;width:300px;text-align:center;">:</span>
<span class="t" style="top:788.34px;font-size:9.7px;line-height:13px;color:#0a0a0a;letter-spacing:0.17px;right:174.22px;">109</span>
<span class="t" style="top:788.34px;font-size:9.7px;line-height:13px;color:#0a0a0a;letter-spacing:0.17px;right:27.62px;">Format - Kapazität</span>
<div class="a" style="left:353.20px;top:790.80px;width:47.26px;height:9.60px;background:#b9d9a9;border:1px solid #3a3a3a;box-sizing:border-box;"></div>
<span class="t" style="top:803.67px;font-size:9.7px;line-height:13px;color:#0a0a0a;letter-spacing:0.17px;left:28.87px;">Croupe</span>
<span class="t" style="top:803.67px;font-size:9.7px;line-height:13px;color:#0a0a0a;letter-spacing:0.17px;left:44.70px;width:300px;text-align:center;">:</span>
<span class="t" style="top:803.67px;font-size:9.7px;line-height:13px;color:#0a0a0a;letter-spacing:0.17px;left:358.30px;width:300px;text-align:center;">:</span>
<span class="t" style="top:803.67px;font-size:9.7px;line-height:13px;color:#0a0a0a;letter-spacing:0.17px;right:174.22px;">102</span>
<span class="t" style="top:803.67px;font-size:9.7px;line-height:13px;color:#0a0a0a;letter-spacing:0.17px;right:27.62px;">Becken</span>
<div class="a" style="left:353.20px;top:806.13px;width:11.28px;height:9.60px;background:#b9d9a9;border:1px solid #3a3a3a;box-sizing:border-box;"></div>
<span class="t" style="top:819.00px;font-size:9.7px;line-height:13px;color:#0a0a0a;letter-spacing:0.17px;left:28.87px;">Membres</span>
<span class="t" style="top:819.00px;font-size:9.7px;line-height:13px;color:#0a0a0a;letter-spacing:0.17px;left:44.70px;width:300px;text-align:center;">:</span>
<span class="t" style="top:819.00px;font-size:9.7px;line-height:13px;color:#0a0a0a;letter-spacing:0.17px;left:358.30px;width:300px;text-align:center;">:</span>
<span class="t" style="top:819.00px;font-size:9.7px;line-height:13px;color:#0a0a0a;letter-spacing:0.17px;right:174.22px;">109</span>
<span class="t" style="top:819.00px;font-size:9.7px;line-height:13px;color:#0a0a0a;letter-spacing:0.17px;right:27.62px;">Gliedmassen</span>
<div class="a" style="left:353.20px;top:821.46px;width:47.26px;height:9.60px;background:#b9d9a9;border:1px solid #3a3a3a;box-sizing:border-box;"></div>
<span class="t" style="top:834.33px;font-size:9.7px;line-height:13px;color:#0a0a0a;letter-spacing:0.17px;left:28.87px;">Système mammaire</span>
<span class="t" style="top:834.33px;font-size:9.7px;line-height:13px;color:#0a0a0a;letter-spacing:0.17px;left:44.70px;width:300px;text-align:center;">:</span>
<span class="t" style="top:834.33px;font-size:9.7px;line-height:13px;color:#0a0a0a;letter-spacing:0.17px;left:358.30px;width:300px;text-align:center;">:</span>
<span class="t" style="top:834.33px;font-size:9.7px;line-height:13px;color:#0a0a0a;letter-spacing:0.17px;right:174.22px;">120</span>
<span class="t" style="top:834.33px;font-size:9.7px;line-height:13px;color:#0a0a0a;letter-spacing:0.17px;right:27.62px;">Euteranlage</span>
<div class="a" style="left:353.20px;top:836.79px;width:103.80px;height:9.60px;background:#b9d9a9;border:1px solid #3a3a3a;box-sizing:border-box;"></div>
<div class="a" style="left:353.00px;top:788.30px;width:1.10px;height:60.60px;background:#222;"></div>
<span class="t" style="top:856.44px;font-size:9.7px;line-height:13px;color:#0a0a0a;letter-spacing:0.17px;left:28.87px;">Stature</span>
<span class="t" style="top:856.44px;font-size:9.7px;line-height:13px;color:#0a0a0a;letter-spacing:0.17px;left:44.70px;width:300px;text-align:center;">:</span>
<span class="t" style="top:856.44px;font-size:9.7px;line-height:13px;color:#0a0a0a;letter-spacing:0.17px;left:358.30px;width:300px;text-align:center;">:</span>
<span class="t" style="top:856.44px;font-size:9.7px;line-height:13px;color:#0a0a0a;letter-spacing:0.17px;right:174.22px;">123</span>
<span class="t" style="top:856.44px;font-size:9.7px;line-height:13px;color:#0a0a0a;letter-spacing:0.17px;right:27.62px;">Grösse</span>
<div class="a" style="left:353.20px;top:858.90px;width:119.22px;height:9.60px;background:#b9d9a9;border:1px solid #3a3a3a;box-sizing:border-box;"></div>
<span class="t" style="top:871.82px;font-size:9.7px;line-height:13px;color:#0a0a0a;letter-spacing:0.17px;left:28.87px;">Hauteur avant-main</span>
<span class="t" style="top:871.82px;font-size:9.7px;line-height:13px;color:#0a0a0a;letter-spacing:0.17px;left:44.70px;width:300px;text-align:center;">:</span>
<span class="t" style="top:871.82px;font-size:9.7px;line-height:13px;color:#0a0a0a;letter-spacing:0.17px;left:358.30px;width:300px;text-align:center;">:</span>
<span class="t" style="top:871.82px;font-size:9.7px;line-height:13px;color:#0a0a0a;letter-spacing:0.17px;right:174.22px;">112</span>
<span class="t" style="top:871.82px;font-size:9.7px;line-height:13px;color:#0a0a0a;letter-spacing:0.17px;right:27.62px;">Rel. Höhe Vorhand</span>
<div class="a" style="left:353.20px;top:874.28px;width:62.68px;height:9.60px;background:#b9d9a9;border:1px solid #3a3a3a;box-sizing:border-box;"></div>
<span class="t" style="top:887.20px;font-size:9.7px;line-height:13px;color:#0a0a0a;letter-spacing:0.17px;left:28.87px;">Largeur de poitrine</span>
<span class="t" style="top:887.20px;font-size:9.7px;line-height:13px;color:#0a0a0a;letter-spacing:0.17px;left:44.70px;width:300px;text-align:center;">:</span>
<span class="t" style="top:887.20px;font-size:9.7px;line-height:13px;color:#0a0a0a;letter-spacing:0.17px;left:358.30px;width:300px;text-align:center;">:</span>
<span class="t" style="top:887.20px;font-size:9.7px;line-height:13px;color:#0a0a0a;letter-spacing:0.17px;right:174.22px;">118</span>
<span class="t" style="top:887.20px;font-size:9.7px;line-height:13px;color:#0a0a0a;letter-spacing:0.17px;right:27.62px;">Brustbreite</span>
<div class="a" style="left:353.20px;top:889.66px;width:93.52px;height:9.60px;background:#b9d9a9;border:1px solid #3a3a3a;box-sizing:border-box;"></div>
<span class="t" style="top:902.58px;font-size:9.7px;line-height:13px;color:#0a0a0a;letter-spacing:0.17px;left:28.87px;">Profondeur</span>
<span class="t" style="top:902.58px;font-size:9.7px;line-height:13px;color:#0a0a0a;letter-spacing:0.17px;left:44.70px;width:300px;text-align:center;">:</span>
<span class="t" style="top:902.58px;font-size:9.7px;line-height:13px;color:#0a0a0a;letter-spacing:0.17px;left:358.30px;width:300px;text-align:center;">:</span>
<span class="t" style="top:902.58px;font-size:9.7px;line-height:13px;color:#0a0a0a;letter-spacing:0.17px;right:174.22px;">111</span>
<span class="t" style="top:902.58px;font-size:9.7px;line-height:13px;color:#0a0a0a;letter-spacing:0.17px;right:27.62px;">Körpertiefe</span>
<div class="a" style="left:353.20px;top:905.04px;width:57.54px;height:9.60px;background:#b9d9a9;border:1px solid #3a3a3a;box-sizing:border-box;"></div>
<span class="t" style="top:917.96px;font-size:9.7px;line-height:13px;color:#0a0a0a;letter-spacing:0.17px;left:28.87px;">Rein</span>
<span class="t" style="top:917.96px;font-size:9.7px;line-height:13px;color:#0a0a0a;letter-spacing:0.17px;left:44.70px;width:300px;text-align:center;">:</span>
<span class="t" style="top:917.96px;font-size:9.7px;line-height:13px;color:#0a0a0a;letter-spacing:0.17px;left:358.30px;width:300px;text-align:center;">:</span>
<span class="t" style="top:917.96px;font-size:9.7px;line-height:13px;color:#0a0a0a;letter-spacing:0.17px;right:174.22px;">99</span>
<span class="t" style="top:917.96px;font-size:9.7px;line-height:13px;color:#0a0a0a;letter-spacing:0.17px;right:27.62px;">Lende</span>
<div class="a" style="left:348.06px;top:920.42px;width:6.14px;height:9.60px;background:#e7adaa;border:1px solid #3a3a3a;box-sizing:border-box;"></div>
<span class="t" style="top:933.34px;font-size:9.7px;line-height:13px;color:#0a0a0a;letter-spacing:0.17px;left:28.87px;">Angularité</span>
<span class="t" style="top:933.34px;font-size:9.7px;line-height:13px;color:#0a0a0a;letter-spacing:0.17px;left:44.70px;width:300px;text-align:center;">:</span>
<span class="t" style="top:933.34px;font-size:9.7px;line-height:13px;color:#0a0a0a;letter-spacing:0.17px;left:358.30px;width:300px;text-align:center;">:</span>
<span class="t" style="top:933.34px;font-size:9.7px;line-height:13px;color:#0a0a0a;letter-spacing:0.17px;right:174.22px;">123</span>
<span class="t" style="top:933.34px;font-size:9.7px;line-height:13px;color:#0a0a0a;letter-spacing:0.17px;right:27.62px;">Milchcharakter</span>
<div class="a" style="left:353.20px;top:935.80px;width:119.22px;height:9.60px;background:#b9d9a9;border:1px solid #3a3a3a;box-sizing:border-box;"></div>
<span class="t" style="top:948.72px;font-size:9.7px;line-height:13px;color:#0a0a0a;letter-spacing:0.17px;left:28.87px;">Position des ischions *</span>
<span class="t" style="top:948.72px;font-size:9.7px;line-height:13px;color:#0a0a0a;letter-spacing:0.17px;left:44.70px;width:300px;text-align:center;">:</span>
<span class="t" style="top:948.72px;font-size:9.7px;line-height:13px;color:#0a0a0a;letter-spacing:0.17px;left:358.30px;width:300px;text-align:center;">:</span>
<span class="t" style="top:948.72px;font-size:9.7px;line-height:13px;color:#0a0a0a;letter-spacing:0.17px;right:174.22px;">92</span>
<span class="t" style="top:948.72px;font-size:9.7px;line-height:13px;color:#0a0a0a;letter-spacing:0.17px;right:27.62px;">* Beckenneigung</span>
<div class="a" style="left:312.08px;top:951.18px;width:42.12px;height:9.60px;background:#abaaca;border:1px solid #3a3a3a;box-sizing:border-box;"></div>
<span class="t" style="top:964.10px;font-size:9.7px;line-height:13px;color:#0a0a0a;letter-spacing:0.17px;left:28.87px;">Largeur aux ischions</span>
<span class="t" style="top:964.10px;font-size:9.7px;line-height:13px;color:#0a0a0a;letter-spacing:0.17px;left:44.70px;width:300px;text-align:center;">:</span>
<span class="t" style="top:964.10px;font-size:9.7px;line-height:13px;color:#0a0a0a;letter-spacing:0.17px;left:358.30px;width:300px;text-align:center;">:</span>
<span class="t" style="top:964.10px;font-size:9.7px;line-height:13px;color:#0a0a0a;letter-spacing:0.17px;right:174.22px;">118</span>
<span class="t" style="top:964.10px;font-size:9.7px;line-height:13px;color:#0a0a0a;letter-spacing:0.17px;right:27.62px;">Beckenbreite</span>
<div class="a" style="left:353.20px;top:966.56px;width:93.52px;height:9.60px;background:#b9d9a9;border:1px solid #3a3a3a;box-sizing:border-box;"></div>
<span class="t" style="top:979.48px;font-size:9.7px;line-height:13px;color:#0a0a0a;letter-spacing:0.17px;left:28.87px;">Qualité d’ossature</span>
<span class="t" style="top:979.48px;font-size:9.7px;line-height:13px;color:#0a0a0a;letter-spacing:0.17px;left:44.70px;width:300px;text-align:center;">:</span>
<span class="t" style="top:979.48px;font-size:9.7px;line-height:13px;color:#0a0a0a;letter-spacing:0.17px;left:358.30px;width:300px;text-align:center;">:</span>
<span class="t" style="top:979.48px;font-size:9.7px;line-height:13px;color:#0a0a0a;letter-spacing:0.17px;right:174.22px;">98</span>
<span class="t" style="top:979.48px;font-size:9.7px;line-height:13px;color:#0a0a0a;letter-spacing:0.17px;right:27.62px;">Knochenbau</span>
<div class="a" style="left:342.92px;top:981.94px;width:11.28px;height:9.60px;background:#e7adaa;border:1px solid #3a3a3a;box-sizing:border-box;"></div>
<span class="t" style="top:994.86px;font-size:9.7px;line-height:13px;color:#0a0a0a;letter-spacing:0.17px;left:28.87px;">Angle du jarret *</span>
<span class="t" style="top:994.86px;font-size:9.7px;line-height:13px;color:#0a0a0a;letter-spacing:0.17px;left:44.70px;width:300px;text-align:center;">:</span>
<span class="t" style="top:994.86px;font-size:9.7px;line-height:13px;color:#0a0a0a;letter-spacing:0.17px;left:358.30px;width:300px;text-align:center;">:</span>
<span class="t" style="top:994.86px;font-size:9.7px;line-height:13px;color:#0a0a0a;letter-spacing:0.17px;right:174.22px;">103</span>
<span class="t" style="top:994.86px;font-size:9.7px;line-height:13px;color:#0a0a0a;letter-spacing:0.17px;right:27.62px;">* Hinterbeinwinkelung</span>
<div class="a" style="left:353.20px;top:997.32px;width:16.42px;height:9.60px;background:#abaaca;border:1px solid #3a3a3a;box-sizing:border-box;"></div>
<span class="t" style="top:1010.24px;font-size:9.7px;line-height:13px;color:#0a0a0a;letter-spacing:0.17px;left:28.87px;">Aplombs arrières</span>
<span class="t" style="top:1010.24px;font-size:9.7px;line-height:13px;color:#0a0a0a;letter-spacing:0.17px;left:44.70px;width:300px;text-align:center;">:</span>
<span class="t" style="top:1010.24px;font-size:9.7px;line-height:13px;color:#0a0a0a;letter-spacing:0.17px;left:358.30px;width:300px;text-align:center;">:</span>
<span class="t" style="top:1010.24px;font-size:9.7px;line-height:13px;color:#0a0a0a;letter-spacing:0.17px;right:174.22px;">106</span>
<span class="t" style="top:1010.24px;font-size:9.7px;line-height:13px;color:#0a0a0a;letter-spacing:0.17px;right:27.62px;">Hinterbeinstellung</span>
<div class="a" style="left:353.20px;top:1012.70px;width:31.84px;height:9.60px;background:#b9d9a9;border:1px solid #3a3a3a;box-sizing:border-box;"></div>
<span class="t" style="top:1025.62px;font-size:9.7px;line-height:13px;color:#0a0a0a;letter-spacing:0.17px;left:28.87px;">Mobilité</span>
<span class="t" style="top:1025.62px;font-size:9.7px;line-height:13px;color:#0a0a0a;letter-spacing:0.17px;left:44.70px;width:300px;text-align:center;">:</span>
<span class="t" style="top:1025.62px;font-size:9.7px;line-height:13px;color:#0a0a0a;letter-spacing:0.17px;left:358.30px;width:300px;text-align:center;">:</span>
<span class="t" style="top:1025.62px;font-size:9.7px;line-height:13px;color:#0a0a0a;letter-spacing:0.17px;right:174.22px;">110</span>
<span class="t" style="top:1025.62px;font-size:9.7px;line-height:13px;color:#0a0a0a;letter-spacing:0.17px;right:27.62px;">Bewegung</span>
<div class="a" style="left:353.20px;top:1028.08px;width:52.40px;height:9.60px;background:#b9d9a9;border:1px solid #3a3a3a;box-sizing:border-box;"></div>
<span class="t" style="top:1041.00px;font-size:9.7px;line-height:13px;color:#0a0a0a;letter-spacing:0.17px;left:28.87px;">Angle du pied</span>
<span class="t" style="top:1041.00px;font-size:9.7px;line-height:13px;color:#0a0a0a;letter-spacing:0.17px;left:44.70px;width:300px;text-align:center;">:</span>
<span class="t" style="top:1041.00px;font-size:9.7px;line-height:13px;color:#0a0a0a;letter-spacing:0.17px;left:358.30px;width:300px;text-align:center;">:</span>
<span class="t" style="top:1041.00px;font-size:9.7px;line-height:13px;color:#0a0a0a;letter-spacing:0.17px;right:174.22px;">112</span>
<span class="t" style="top:1041.00px;font-size:9.7px;line-height:13px;color:#0a0a0a;letter-spacing:0.17px;right:27.62px;">Fusswinkel</span>
<div class="a" style="left:353.20px;top:1043.46px;width:62.68px;height:9.60px;background:#b9d9a9;border:1px solid #3a3a3a;box-sizing:border-box;"></div>
<span class="t" style="top:1056.38px;font-size:9.7px;line-height:13px;color:#0a0a0a;letter-spacing:0.17px;left:28.87px;">Talon</span>
<span class="t" style="top:1056.38px;font-size:9.7px;line-height:13px;color:#0a0a0a;letter-spacing:0.17px;left:44.70px;width:300px;text-align:center;">:</span>
<span class="t" style="top:1056.38px;font-size:9.7px;line-height:13px;color:#0a0a0a;letter-spacing:0.17px;left:358.30px;width:300px;text-align:center;">:</span>
<span class="t" style="top:1056.38px;font-size:9.7px;line-height:13px;color:#0a0a0a;letter-spacing:0.17px;right:174.22px;">111</span>
<span class="t" style="top:1056.38px;font-size:9.7px;line-height:13px;color:#0a0a0a;letter-spacing:0.17px;right:27.62px;">Trachtenhöhe</span>
<div class="a" style="left:353.20px;top:1058.84px;width:57.54px;height:9.60px;background:#b9d9a9;border:1px solid #3a3a3a;box-sizing:border-box;"></div>
<span class="t" style="top:1071.76px;font-size:9.7px;line-height:13px;color:#0a0a0a;letter-spacing:0.17px;left:28.87px;">Attache avant</span>
<span class="t" style="top:1071.76px;font-size:9.7px;line-height:13px;color:#0a0a0a;letter-spacing:0.17px;left:44.70px;width:300px;text-align:center;">:</span>
<span class="t" style="top:1071.76px;font-size:9.7px;line-height:13px;color:#0a0a0a;letter-spacing:0.17px;left:358.30px;width:300px;text-align:center;">:</span>
<span class="t" style="top:1071.76px;font-size:9.7px;line-height:13px;color:#0a0a0a;letter-spacing:0.17px;right:174.22px;">115</span>
<span class="t" style="top:1071.76px;font-size:9.7px;line-height:13px;color:#0a0a0a;letter-spacing:0.17px;right:27.62px;">Aufhängung vorn</span>
<div class="a" style="left:353.20px;top:1074.22px;width:78.10px;height:9.60px;background:#b9d9a9;border:1px solid #3a3a3a;box-sizing:border-box;"></div>
<span class="t" style="top:1087.14px;font-size:9.7px;line-height:13px;color:#0a0a0a;letter-spacing:0.17px;left:28.87px;">Attache arrière hauteur</span>
<span class="t" style="top:1087.14px;font-size:9.7px;line-height:13px;color:#0a0a0a;letter-spacing:0.17px;left:44.70px;width:300px;text-align:center;">:</span>
<span class="t" style="top:1087.14px;font-size:9.7px;line-height:13px;color:#0a0a0a;letter-spacing:0.17px;left:358.30px;width:300px;text-align:center;">:</span>
<span class="t" style="top:1087.14px;font-size:9.7px;line-height:13px;color:#0a0a0a;letter-spacing:0.17px;right:174.22px;">114</span>
<span class="t" style="top:1087.14px;font-size:9.7px;line-height:13px;color:#0a0a0a;letter-spacing:0.17px;right:27.62px;">Aufhängung hinten Höhe</span>
<div class="a" style="left:353.20px;top:1089.60px;width:72.96px;height:9.60px;background:#b9d9a9;border:1px solid #3a3a3a;box-sizing:border-box;"></div>
<span class="t" style="top:1102.52px;font-size:9.7px;line-height:13px;color:#0a0a0a;letter-spacing:0.17px;left:28.87px;">Attache arrière largeur</span>
<span class="t" style="top:1102.52px;font-size:9.7px;line-height:13px;color:#0a0a0a;letter-spacing:0.17px;left:44.70px;width:300px;text-align:center;">:</span>
<span class="t" style="top:1102.52px;font-size:9.7px;line-height:13px;color:#0a0a0a;letter-spacing:0.17px;left:358.30px;width:300px;text-align:center;">:</span>
<span class="t" style="top:1102.52px;font-size:9.7px;line-height:13px;color:#0a0a0a;letter-spacing:0.17px;right:174.22px;">111</span>
<span class="t" style="top:1102.52px;font-size:9.7px;line-height:13px;color:#0a0a0a;letter-spacing:0.17px;right:27.62px;">Aufhängung hinten Breite</span>
<div class="a" style="left:353.20px;top:1104.98px;width:57.54px;height:9.60px;background:#b9d9a9;border:1px solid #3a3a3a;box-sizing:border-box;"></div>
<span class="t" style="top:1117.90px;font-size:9.7px;line-height:13px;color:#0a0a0a;letter-spacing:0.17px;left:28.87px;">Profondeur du pis</span>
<span class="t" style="top:1117.90px;font-size:9.7px;line-height:13px;color:#0a0a0a;letter-spacing:0.17px;left:44.70px;width:300px;text-align:center;">:</span>
<span class="t" style="top:1117.90px;font-size:9.7px;line-height:13px;color:#0a0a0a;letter-spacing:0.17px;left:358.30px;width:300px;text-align:center;">:</span>
<span class="t" style="top:1117.90px;font-size:9.7px;line-height:13px;color:#0a0a0a;letter-spacing:0.17px;right:174.22px;">116</span>
<span class="t" style="top:1117.90px;font-size:9.7px;line-height:13px;color:#0a0a0a;letter-spacing:0.17px;right:27.62px;">Eutertiefe</span>
<div class="a" style="left:353.20px;top:1120.36px;width:83.24px;height:9.60px;background:#b9d9a9;border:1px solid #3a3a3a;box-sizing:border-box;"></div>
<span class="t" style="top:1133.28px;font-size:9.7px;line-height:13px;color:#0a0a0a;letter-spacing:0.17px;left:28.87px;">Ligament</span>
<span class="t" style="top:1133.28px;font-size:9.7px;line-height:13px;color:#0a0a0a;letter-spacing:0.17px;left:44.70px;width:300px;text-align:center;">:</span>
<span class="t" style="top:1133.28px;font-size:9.7px;line-height:13px;color:#0a0a0a;letter-spacing:0.17px;left:358.30px;width:300px;text-align:center;">:</span>
<span class="t" style="top:1133.28px;font-size:9.7px;line-height:13px;color:#0a0a0a;letter-spacing:0.17px;right:174.22px;">115</span>
<span class="t" style="top:1133.28px;font-size:9.7px;line-height:13px;color:#0a0a0a;letter-spacing:0.17px;right:27.62px;">Zentralband</span>
<div class="a" style="left:353.20px;top:1135.74px;width:78.10px;height:9.60px;background:#b9d9a9;border:1px solid #3a3a3a;box-sizing:border-box;"></div>
<span class="t" style="top:1148.66px;font-size:9.7px;line-height:13px;color:#0a0a0a;letter-spacing:0.17px;left:28.87px;">Texture</span>
<span class="t" style="top:1148.66px;font-size:9.7px;line-height:13px;color:#0a0a0a;letter-spacing:0.17px;left:44.70px;width:300px;text-align:center;">:</span>
<span class="t" style="top:1148.66px;font-size:9.7px;line-height:13px;color:#0a0a0a;letter-spacing:0.17px;left:358.30px;width:300px;text-align:center;">:</span>
<span class="t" style="top:1148.66px;font-size:9.7px;line-height:13px;color:#0a0a0a;letter-spacing:0.17px;right:174.22px;">115</span>
<span class="t" style="top:1148.66px;font-size:9.7px;line-height:13px;color:#0a0a0a;letter-spacing:0.17px;right:27.62px;">Drüsigkeit</span>
<div class="a" style="left:353.20px;top:1151.12px;width:78.10px;height:9.60px;background:#b9d9a9;border:1px solid #3a3a3a;box-sizing:border-box;"></div>
<span class="t" style="top:1164.04px;font-size:9.7px;line-height:13px;color:#0a0a0a;letter-spacing:0.17px;left:28.87px;">Longueur trayons avant *</span>
<span class="t" style="top:1164.04px;font-size:9.7px;line-height:13px;color:#0a0a0a;letter-spacing:0.17px;left:44.70px;width:300px;text-align:center;">:</span>
<span class="t" style="top:1164.04px;font-size:9.7px;line-height:13px;color:#0a0a0a;letter-spacing:0.17px;left:358.30px;width:300px;text-align:center;">:</span>
<span class="t" style="top:1164.04px;font-size:9.7px;line-height:13px;color:#0a0a0a;letter-spacing:0.17px;right:174.22px;">106</span>
<span class="t" style="top:1164.04px;font-size:9.7px;line-height:13px;color:#0a0a0a;letter-spacing:0.17px;right:27.62px;">* Zitzenlänge vorn</span>
<div class="a" style="left:353.20px;top:1166.50px;width:31.84px;height:9.60px;background:#abaaca;border:1px solid #3a3a3a;box-sizing:border-box;"></div>
<span class="t" style="top:1179.42px;font-size:9.7px;line-height:13px;color:#0a0a0a;letter-spacing:0.17px;left:28.87px;">Implantation trayons avant *</span>
<span class="t" style="top:1179.42px;font-size:9.7px;line-height:13px;color:#0a0a0a;letter-spacing:0.17px;left:44.70px;width:300px;text-align:center;">:</span>
<span class="t" style="top:1179.42px;font-size:9.7px;line-height:13px;color:#0a0a0a;letter-spacing:0.17px;left:358.30px;width:300px;text-align:center;">:</span>
<span class="t" style="top:1179.42px;font-size:9.7px;line-height:13px;color:#0a0a0a;letter-spacing:0.17px;right:174.22px;">97</span>
<span class="t" style="top:1179.42px;font-size:9.7px;line-height:13px;color:#0a0a0a;letter-spacing:0.17px;right:27.62px;">* Zitzenverteilung vorn</span>
<div class="a" style="left:337.78px;top:1181.88px;width:16.42px;height:9.60px;background:#abaaca;border:1px solid #3a3a3a;box-sizing:border-box;"></div>
<span class="t" style="top:1194.80px;font-size:9.7px;line-height:13px;color:#0a0a0a;letter-spacing:0.17px;left:28.87px;">Implantation trayons arrière *</span>
<span class="t" style="top:1194.80px;font-size:9.7px;line-height:13px;color:#0a0a0a;letter-spacing:0.17px;left:44.70px;width:300px;text-align:center;">:</span>
<span class="t" style="top:1194.80px;font-size:9.7px;line-height:13px;color:#0a0a0a;letter-spacing:0.17px;left:358.30px;width:300px;text-align:center;">:</span>
<span class="t" style="top:1194.80px;font-size:9.7px;line-height:13px;color:#0a0a0a;letter-spacing:0.17px;right:174.22px;">102</span>
<span class="t" style="top:1194.80px;font-size:9.7px;line-height:13px;color:#0a0a0a;letter-spacing:0.17px;right:27.62px;">* Zitzenverteilung hinten</span>
<div class="a" style="left:353.20px;top:1197.26px;width:11.28px;height:9.60px;background:#abaaca;border:1px solid #3a3a3a;box-sizing:border-box;"></div>
<div class="a" style="left:353.00px;top:856.30px;width:1.10px;height:353.00px;background:#222;"></div>
<span class="t" style="top:1216.54px;font-size:9.7px;line-height:13px;color:#0a0a0a;letter-spacing:0.17px;left:28.87px;">* Note optimale : 100</span>
<span class="t" style="top:1216.54px;font-size:9.7px;line-height:13px;color:#0a0a0a;letter-spacing:0.17px;right:27.62px;">* Optimale Note : 100</span>
<span class="t" style="top:1224.14px;font-size:9.7px;line-height:13px;color:#0a0a0a;letter-spacing:0.17px;left:225.50px;width:300px;text-align:center;">HOLCHEF120115680484</span>
</body></html>
